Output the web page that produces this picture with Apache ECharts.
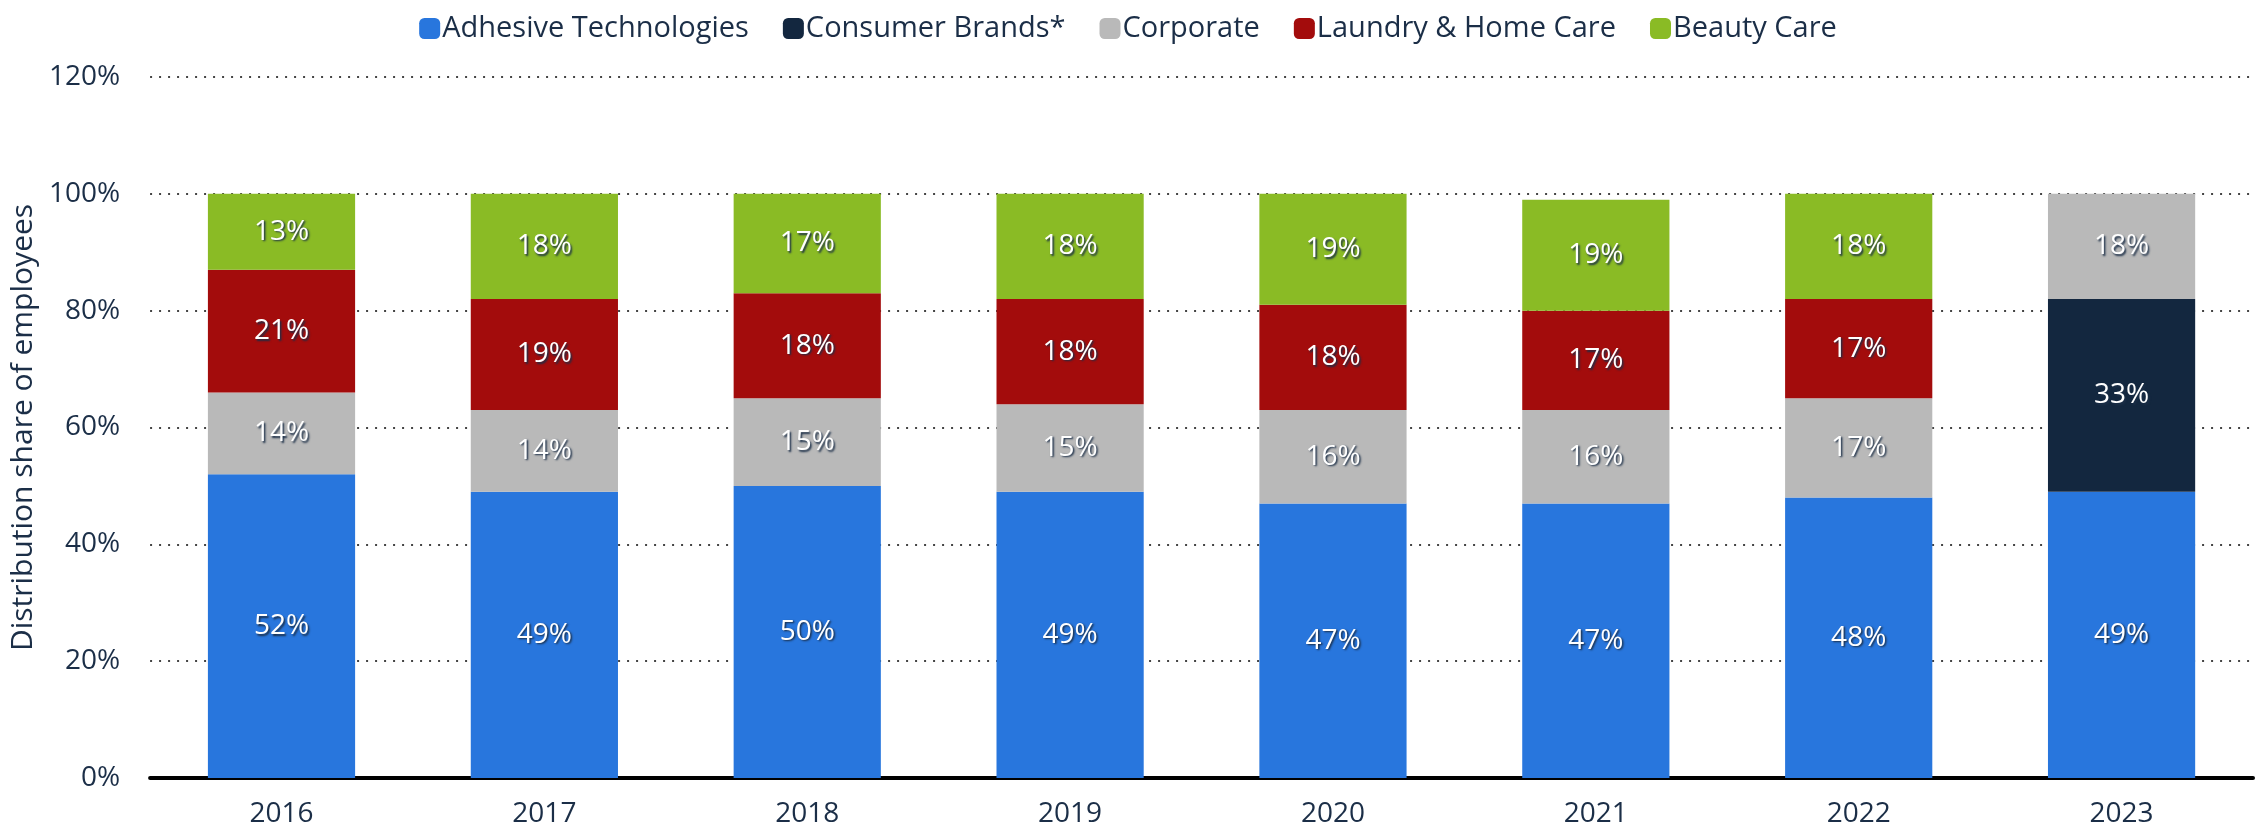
<!DOCTYPE html>
<html>
<head>
<meta charset="utf-8">
<title>Distribution share of employees</title>
<script src="https://cdn.jsdelivr.net/npm/echarts@6/dist/echarts.min.js"></script>
<style>
  html, body { margin: 0; padding: 0; background: #fff; }
  #chart { width: 2256px; height: 836px; }
</style>
</head>
<body>
<div id="chart"></div>
<script>
// categories
const years = ['2016', '2017', '2018', '2019', '2020', '2021', '2022', '2023'];

// shares in percent, null where the segment is missing
const adhesive = [52, 49, 50, 49, 47, 47, 48, 49];
const consumerBrands = [null, null, null, null, null, null, null, 33];
const corporate = [14, 14, 15, 15, 16, 16, 17, 18];
const laundry = [21, 19, 18, 18, 18, 17, 17, null];
const beauty = [13, 18, 17, 18, 19, 19, 18, null];

const yTicks = [0, 20, 40, 60, 80, 100, 120];

const textColor = '#1b2e47';
const font = '"Open Sans", "Noto Sans", sans-serif';

const labelStyle = {
  show: true,
  position: 'inside',
  color: '#fff',
  fontFamily: font,
  fontSize: 28,
  textShadowColor: '#1b2e47',
  textShadowBlur: 2,
  textShadowOffsetX: 1.5,
  textShadowOffsetY: 1.5,
  formatter: (p) => p.value + '%'
};

const makeSeries = (name, data, color) => ({
  name: name,
  type: 'bar',
  stack: 'total',
  data: data,
  barWidth: '56%',
  itemStyle: { color: color },
  label: labelStyle,
  emphasis: { disabled: true }
});

const chart = echarts.init(document.getElementById('chart'));

chart.setOption({
  animation: false,
  textStyle: { fontFamily: font },
  legend: {
    top: 9,
    left: 'center',
    itemWidth: 21,
    itemHeight: 21,
    itemGap: 34,
    icon: 'roundRect',
    textStyle: { color: textColor, fontSize: 29, fontFamily: font, padding: [0, 0, 0, -3] },
    data: ['Adhesive Technologies', 'Consumer Brands*', 'Corporate', 'Laundry & Home Care', 'Beauty Care']
  },
  grid: {
    left: 147,
    right: 3,
    top: 77,
    bottom: 58
  },
  xAxis: {
    type: 'category',
    data: years,
    axisTick: { show: false },
    axisLine: { lineStyle: { color: '#000', width: 4 } },
    axisLabel: { color: textColor, fontSize: 28, margin: 22, fontFamily: font }
  },
  yAxis: {
    type: 'value',
    min: yTicks[0],
    max: yTicks[yTicks.length - 1],
    interval: 20,
    name: 'Distribution share of employees',
    nameLocation: 'middle',
    nameGap: 110,
    nameTextStyle: { color: textColor, fontSize: 30, fontFamily: font },
    axisLabel: {
      color: textColor,
      fontSize: 28,
      margin: 30,
      fontFamily: font,
      formatter: '{value}%'
    },
    splitLine: {
      lineStyle: { color: '#444', width: 2, type: [2, 7] }
    }
  },
  series: [
    makeSeries('Adhesive Technologies', adhesive, '#2876dd'),
    makeSeries('Consumer Brands*', consumerBrands, '#13273f'),
    makeSeries('Corporate', corporate, '#b9b9b9'),
    makeSeries('Laundry & Home Care', laundry, '#a30c0c'),
    makeSeries('Beauty Care', beauty, '#8abb25')
  ]
});
</script>
</body>
</html>
